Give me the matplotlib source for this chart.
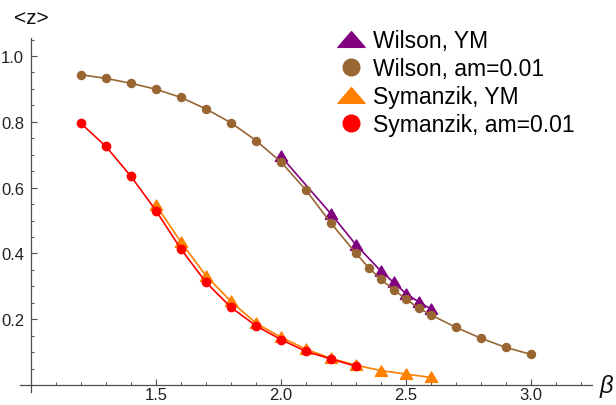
import matplotlib
matplotlib.use("Agg")
import matplotlib.pyplot as plt
from matplotlib.lines import Line2D
from matplotlib.path import Path
import numpy as np

plt.rcParams['font.family'] = ['Liberation Sans', 'DejaVu Sans']

# Wilson, YM
wil_ym_x = [2.0, 2.2, 2.3, 2.4, 2.45, 2.5, 2.55, 2.6]
wil_ym_y = [0.695, 0.520, 0.426, 0.346, 0.312, 0.278, 0.253, 0.231]

# Wilson, am=0.01
wil_am_x = [1.2, 1.3, 1.4, 1.5, 1.6, 1.7, 1.8, 1.9, 2.0, 2.1, 2.2, 2.3, 2.35,
            2.4, 2.45, 2.5, 2.55, 2.6, 2.7, 2.8, 2.9, 3.0]
wil_am_y = [0.943, 0.932, 0.917, 0.899, 0.874, 0.839, 0.797, 0.743, 0.678,
            0.592, 0.492, 0.400, 0.357, 0.321, 0.290, 0.261, 0.234, 0.213,
            0.175, 0.142, 0.114, 0.093]

# Symanzik, YM
sym_ym_x = [1.5, 1.6, 1.7, 1.8, 1.9, 2.0, 2.1, 2.2, 2.3, 2.4, 2.5, 2.6]
sym_ym_y = [0.547, 0.434, 0.332, 0.254, 0.188, 0.145, 0.109, 0.081, 0.060,
            0.044, 0.033, 0.023]

# Symanzik, am=0.01
sym_am_x = [1.2, 1.3, 1.4, 1.5, 1.6, 1.7, 1.8, 1.9, 2.0, 2.1, 2.2, 2.3]
sym_am_y = [0.795, 0.725, 0.634, 0.530, 0.413, 0.312, 0.236, 0.180, 0.138,
            0.102, 0.079, 0.057]

labels = ["Wilson, YM", "Wilson, am=0.01", "Symanzik, YM", "Symanzik, am=0.01"]
x_major = [1.5, 2.0, 2.5, 3.0]
y_major = [0.2, 0.4, 0.6, 0.8, 1.0]

purple = '#800080'
brown = '#996633'
orange = '#FF8000'
red = '#FF0000'

tri_data = Path([(-1, -0.8), (1, -0.8), (0, 0.9), (-1, -0.8)],
                [Path.MOVETO, Path.LINETO, Path.LINETO, Path.CLOSEPOLY])
tri_leg = Path([(-1, -0.58), (1, -0.58), (0, 0.58), (-1, -0.58)],
               [Path.MOVETO, Path.LINETO, Path.LINETO, Path.CLOSEPOLY])

W, H = 616, 406
fig = plt.figure(figsize=(W / 100, H / 100), dpi=100)
ax = fig.add_axes([0, 0, 1, 1])
ax.patch.set_alpha(0)

# pixel mapping: x=1.0 at px 31, 250 px/unit; y=0 at px 386 from top, 329 px/unit
ax.set_xlim(1.0 - 31 / 250, 1.0 + (W - 31) / 250)
ax.set_ylim(-(H - 386) / 329, 386 / 329)

lw = 1.2
ax.plot(sym_ym_x, sym_ym_y, color=orange, lw=lw, marker=tri_data, ms=8.8,
        mec=orange, mfc=orange, zorder=3)
ax.plot(sym_am_x, sym_am_y, color=red, lw=lw, marker='o', ms=6,
        mec=red, mfc=red, zorder=4)
ax.plot(wil_ym_x, wil_ym_y, color=purple, lw=lw, marker=tri_data, ms=8.8,
        mec=purple, mfc=purple, zorder=3)
ax.plot(wil_am_x, wil_am_y, color=brown, lw=lw, marker='o', ms=5.8,
        mec=brown, mfc=brown, zorder=4)

for s in ['top', 'right']:
    ax.spines[s].set_visible(False)
ax.spines['left'].set_position(('data', 1.0))
ax.spines['bottom'].set_position(('data', 0.0))
ax.spines['left'].set_bounds(-0.02, 1.055)
ax.spines['bottom'].set_bounds(0.955, 3.244)
for s in ['left', 'bottom']:
    ax.spines[s].set_color('#4d4d4d')
    ax.spines[s].set_linewidth(0.9)

ax.set_xticks(x_major)
ax.set_xticklabels([f"{v:.1f}" for v in x_major])
ax.set_xticks([v for v in np.round(np.arange(1.1, 3.25, 0.1), 2)
               if v not in x_major], minor=True)
ax.set_yticks(y_major)
ax.set_yticklabels([f"{v:.1f}" for v in y_major])
ax.set_yticks([v for v in np.round(np.arange(0.05, 1.06, 0.05), 2)
               if v not in y_major], minor=True)
ax.tick_params(axis='both', which='both', direction='in', color='#4d4d4d',
               labelsize=12, labelcolor='#222222')
ax.tick_params(axis='both', which='major', length=4.5, width=0.8)
ax.tick_params(axis='both', which='minor', length=2.5, width=0.7)
ax.tick_params(axis='x', which='major', pad=1.5)
ax.tick_params(axis='y', which='major', pad=5)

fig.text(31 / W, 1 - 19 / H, "<z>", fontsize=15, ha='center', va='center',
         color='#111111')
fig.text(600 / W, 1 - 387 / H, "β", fontsize=17, style='italic',
         ha='left', va='center', color='#111111')

handles = [
    Line2D([], [], ls='none', marker=tri_leg, ms=19.5, color=purple),
    Line2D([], [], ls='none', marker='o', ms=12, color=brown),
    Line2D([], [], ls='none', marker=tri_leg, ms=19.5, color=orange),
    Line2D([], [], ls='none', marker='o', ms=12, color=red),
]
leg = ax.legend(handles, labels, loc='upper left',
                bbox_to_anchor=(337 / W, 1 - 30 / H), frameon=False,
                fontsize=16.5, handlelength=1.2, handletextpad=0.35,
                labelspacing=0.22, borderpad=0, borderaxespad=0)

fig.savefig("out.png", dpi=100)
